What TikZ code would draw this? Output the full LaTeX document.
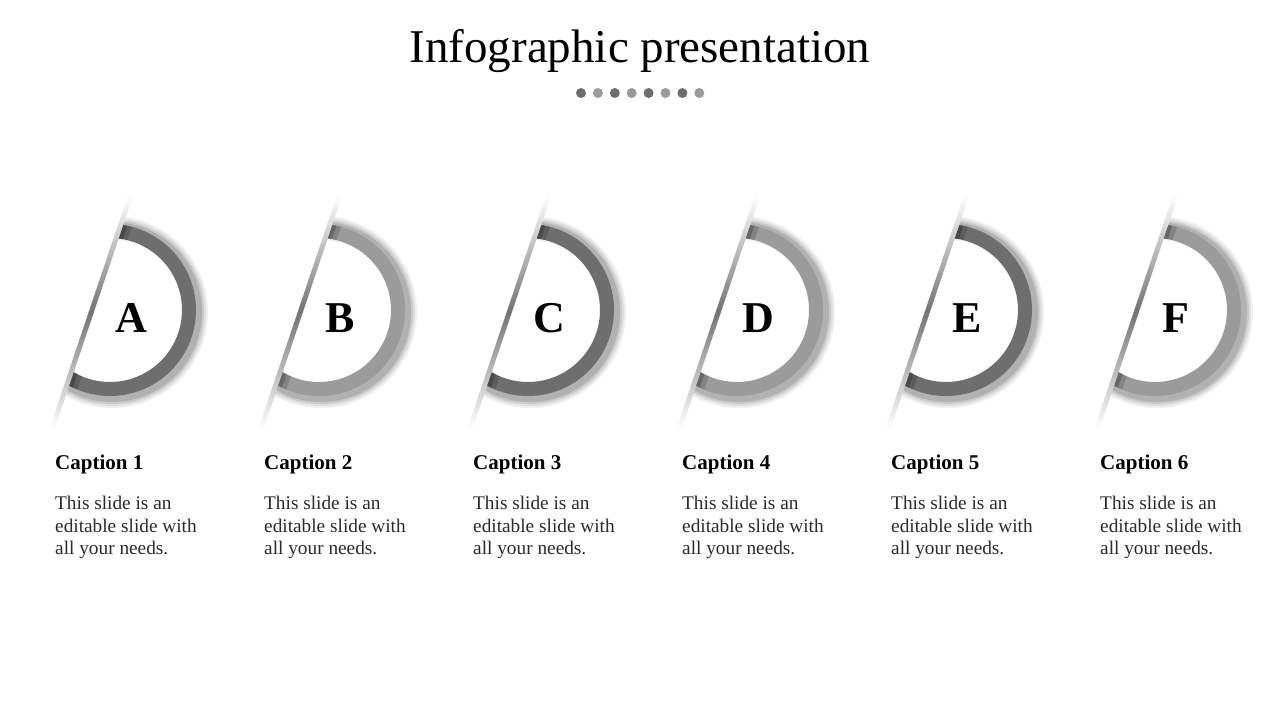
\documentclass[tikz,border=0pt]{standalone}
\usepackage{fontspec}
\setmainfont{Liberation Serif}
\definecolor{ringdark}{HTML}{6E6E6E}
\definecolor{ringlight}{HTML}{9B9B9B}
\definecolor{bodytext}{HTML}{2B2B2B}
\tikzset{
  ringarc/.style={line width=14pt},
  lettr/.style={font=\fontsize{44}{44}\selectfont\bfseries, anchor=base, inner sep=0pt},
  captn/.style={font=\fontsize{21}{24}\selectfont\bfseries, anchor=base west, inner sep=0pt},
  bodytxt/.style={font=\fontsize{19.3}{22.5}\selectfont, anchor=north west, align=left, inner sep=0pt, text=bodytext},
  titledot/.style={circle, minimum size=10pt, inner sep=0pt}
}
\begin{document}
\begin{tikzpicture}[x=1pt,y=-1pt]
\useasboundingbox[fill=white] (0,0) rectangle (1280,720);

\node[font=\fontsize{47}{47}\selectfont, anchor=base] (title) at (640,62) {Infographic presentation};

% dots below the title
\foreach \i/\c in {0/ringdark,1/ringlight,2/ringdark,3/ringlight,4/ringdark,5/ringlight,6/ringdark,7/ringlight}
  \node[titledot, fill=\c] (dot\i) at (581+\i*16.9,93) {};

% the six half rings
\foreach \k/\lt/\rc in {0/A/ringdark,1/B/ringlight,2/C/ringdark,3/D/ringlight,4/E/ringdark,5/F/ringlight}{
  \begin{scope}[shift={(110+\k*209,310)}]
    \begin{scope}
      \clip (40,-172) -- (-77,175) -- (150,175) -- (150,-172) -- cycle;
      \foreach \w/\o in {24/0.06,20/0.07,16/0.09,12/0.12}
        \draw[line width=\w pt, black, opacity=\o] (2,2) circle (84pt);
      \draw[ringarc, \rc] (0,0) circle (79pt);
      % darker ends where the ring meets the bar
      \foreach \d/\o in {12/0.15,7/0.2,3/0.25}{
        \begin{scope}
          \clip (18,-107) -- (-55,110) -- (-55+\d,110) -- (18+\d,-107) -- cycle;
          \draw[ringarc, black, opacity=\o] (0,0) circle (79pt);
        \end{scope}
      }
    \end{scope}
    \begin{scope}[shift={(-18.5,1.5)}, rotate=-18.6]
      \shade[top color=white, bottom color=white, middle color=gray!90!black] (-2.5,-122) rectangle (2.5,122);
    \end{scope}
    \node[lettr] (let\lt) at (21,22) {\lt};
  \end{scope}
  \pgfmathtruncatemacro\num{\k+1}
  \node[captn] (cap\lt) at (55+\k*209,469) {Caption \num};
  \node[bodytxt] (txt\lt) at (55+\k*209,496) {This slide is an\\editable slide with\\all your needs.};
}
\end{tikzpicture}
\end{document}
